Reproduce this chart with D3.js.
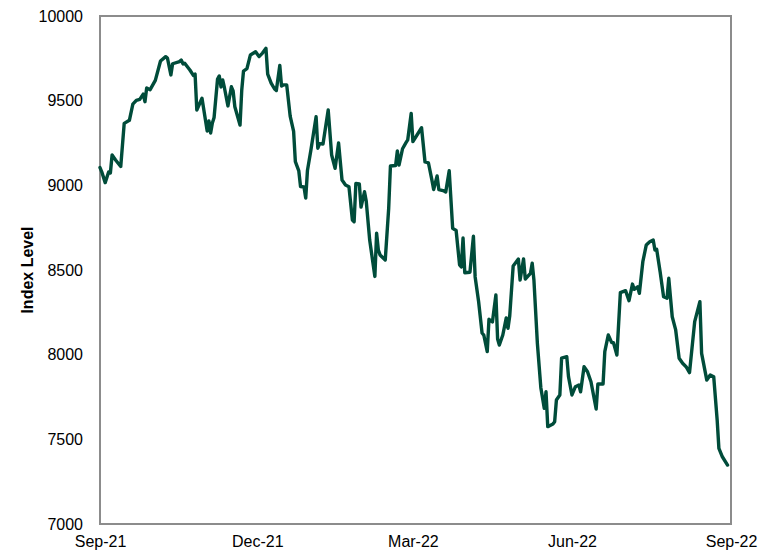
<!DOCTYPE html>
<html>
<head>
<meta charset="utf-8">
<script src="https://cdn.jsdelivr.net/npm/d3@7"></script>
<style>
  html, body { margin: 0; padding: 0; background: #ffffff; }
  svg { display: block; }
  text { font-family: "Liberation Sans", Arial, sans-serif; }
</style>
</head>
<body>
<svg id="chart" width="770" height="560"></svg>
<script>
// ---- Data ----
const dates = [
  "2021-09-01","2021-09-02","2021-09-04","2021-09-06","2021-09-07","2021-09-08","2021-09-10","2021-09-13","2021-09-15","2021-09-18",
  "2021-09-20","2021-09-22","2021-09-24","2021-09-26","2021-09-27","2021-09-28","2021-09-30","2021-10-03","2021-10-06","2021-10-09",
  "2021-10-10","2021-10-12","2021-10-13","2021-10-17","2021-10-18","2021-10-19","2021-10-20","2021-10-23","2021-10-25","2021-10-26",
  "2021-10-27","2021-10-30","2021-11-02","2021-11-03","2021-11-04","2021-11-05","2021-11-06","2021-11-08","2021-11-09","2021-11-10",
  "2021-11-11","2021-11-12","2021-11-14","2021-11-16","2021-11-17","2021-11-18","2021-11-21","2021-11-22","2021-11-23","2021-11-25",
  "2021-11-27","2021-11-30","2021-12-02","2021-12-04","2021-12-06","2021-12-07","2021-12-09","2021-12-11","2021-12-12","2021-12-14",
  "2021-12-15","2021-12-16","2021-12-18","2021-12-20","2021-12-22","2021-12-23","2021-12-25","2021-12-26","2021-12-28","2021-12-29",
  "2021-12-30","2022-01-01","2022-01-04","2022-01-05","2022-01-06","2022-01-08","2022-01-11","2022-01-13","2022-01-15","2022-01-17",
  "2022-01-19","2022-01-21","2022-01-23","2022-01-25","2022-01-26","2022-01-27","2022-01-29","2022-01-30","2022-02-01","2022-02-02",
  "2022-02-04","2022-02-07","2022-02-08","2022-02-09","2022-02-10","2022-02-13","2022-02-15","2022-02-16","2022-02-19","2022-02-20",
  "2022-02-21","2022-02-23","2022-02-25","2022-02-26","2022-02-28","2022-03-01","2022-03-06","2022-03-08","2022-03-10","2022-03-12",
  "2022-03-13","2022-03-15","2022-03-16","2022-03-19","2022-03-20","2022-03-22","2022-03-24","2022-03-26","2022-03-28","2022-03-29",
  "2022-03-30","2022-03-31","2022-04-03","2022-04-05","2022-04-06","2022-04-08","2022-04-10","2022-04-11","2022-04-13","2022-04-14",
  "2022-04-16","2022-04-18","2022-04-19","2022-04-20","2022-04-22","2022-04-24","2022-04-25","2022-04-26","2022-04-28","2022-05-01",
  "2022-05-02","2022-05-04","2022-05-05","2022-05-08","2022-05-09","2022-05-10","2022-05-12","2022-05-14","2022-05-16","2022-05-17",
  "2022-05-18","2022-05-21","2022-05-22","2022-05-23","2022-05-25","2022-05-26","2022-05-29","2022-05-30","2022-06-01","2022-06-03",
  "2022-06-05","2022-06-06","2022-06-08","2022-06-10","2022-06-12","2022-06-15","2022-06-16","2022-06-19","2022-06-20","2022-06-22",
  "2022-06-24","2022-06-25","2022-06-27","2022-06-29","2022-07-02","2022-07-04","2022-07-06","2022-07-07","2022-07-09","2022-07-10",
  "2022-07-12","2022-07-14","2022-07-16","2022-07-18","2022-07-19","2022-07-20","2022-07-22","2022-07-24","2022-07-26","2022-07-27",
  "2022-07-29","2022-07-31","2022-08-02","2022-08-04","2022-08-06","2022-08-08","2022-08-11","2022-08-14","2022-08-15","2022-08-18",
  "2022-08-20","2022-08-22","2022-08-24","2022-08-25","2022-08-27","2022-08-30"
];
const indexLevel = [
  9105,9080,9016,9079,9073,9179,9150,9111,9366,9384,
  9480,9502,9508,9539,9494,9575,9565,9620,9734,9760,
  9752,9652,9718,9731,9740,9717,9721,9681,9649,9657,
  9445,9514,9321,9380,9309,9368,9401,9628,9646,9581,
  9622,9575,9469,9582,9557,9464,9356,9563,9675,9689,
  9770,9789,9760,9781,9809,9657,9604,9569,9560,9708,
  9587,9593,9593,9409,9318,9140,9085,8993,8990,8925,
  9088,9209,9405,9219,9246,9244,9445,9179,9101,9250,
  9031,9002,8992,8795,8785,9011,9008,8872,8962,8907,
  8677,8462,8717,8618,8589,8559,8866,9114,9117,9203,
  9120,9216,9252,9268,9425,9258,9340,9138,9132,9031,
  8975,9055,8975,8967,8961,9086,8746,8733,8530,8518,
  8689,8484,8487,8699,8459,8314,8128,8116,8018,8209,
  8193,8352,8093,8057,8116,8217,8156,8228,8524,8565,
  8441,8565,8447,8480,8540,8441,8067,7805,7683,7781,
  7575,7591,7604,7732,7762,7979,7988,7870,7762,7811,
  7821,7781,7929,7899,7840,7679,7827,7827,8018,8116,
  8071,8071,7998,8366,8378,8319,8417,8386,8401,8362,
  8549,8648,8667,8677,8618,8622,8490,8342,8333,8451,
  8224,8146,7979,7949,7929,7894,8195,8313,8008,7850,
  7880,7870,7614,7447,7397,7348
];
const xTickLabels = ["Sep-21","Dec-21","Mar-22","Jun-22","Sep-22"];
const xTickDates = ["2021-09-01","2021-12-01","2022-03-01","2022-06-01","2022-09-01"];
const yTicks = [7000,7500,8000,8500,9000,9500,10000];
const yTitle = "Index Level";

// ---- Layout ----
const W = 770, H = 560;
const margin = {left: 100, right: 39, top: 16, bottom: 36};
const parse = d3.timeParse("%Y-%m-%d");
const series = dates.map((d, i) => ({date: parse(d), value: indexLevel[i]}));

const svg = d3.select("#chart");

const x = d3.scaleTime()
  .domain([parse(xTickDates[0]), parse(xTickDates[xTickDates.length - 1])])
  .range([margin.left, W - margin.right]);
const y = d3.scaleLinear()
  .domain([7000, 10000])
  .range([H - margin.bottom, margin.top]);

// frame
svg.append("rect")
  .attr("x", x.range()[0]).attr("y", y.range()[1])
  .attr("width", x.range()[1] - x.range()[0])
  .attr("height", y.range()[0] - y.range()[1])
  .attr("fill", "none")
  .attr("stroke", "#8c8c8c")
  .attr("stroke-width", 1.2)
  .attr("shape-rendering", "crispEdges");

// y axis
const yAxis = svg.append("g")
  .attr("transform", `translate(${margin.left},0)`)
  .call(d3.axisLeft(y).tickValues(yTicks).tickSize(0).tickPadding(17).tickFormat(d3.format("d")));
yAxis.select(".domain").remove();
yAxis.selectAll("text").attr("font-size", 16).attr("fill", "#000")
  .attr("font-family", "'Liberation Sans', Arial, sans-serif");

// x axis
const xAxis = svg.append("g")
  .attr("transform", `translate(0,${H - margin.bottom})`)
  .call(d3.axisBottom(x)
    .tickValues(xTickDates.map(parse))
    .tickSize(0).tickPadding(12)
    .tickFormat((d, i) => xTickLabels[i]));
xAxis.select(".domain").remove();
xAxis.selectAll("text").attr("font-size", 16).attr("fill", "#000")
  .attr("font-family", "'Liberation Sans', Arial, sans-serif");

// y title
svg.append("text")
  .attr("transform", `translate(33,${(y.range()[0] + y.range()[1]) / 2}) rotate(-90)`)
  .attr("text-anchor", "middle")
  .attr("font-size", 16)
  .attr("font-weight", "bold")
  .attr("fill", "#000")
  .text(yTitle);

// line
const line = d3.line().x(d => x(d.date)).y(d => y(d.value));
svg.append("path")
  .datum(series)
  .attr("d", line)
  .attr("fill", "none")
  .attr("stroke", "#004c3a")
  .attr("stroke-width", 3.4)
  .attr("stroke-linejoin", "round")
  .attr("stroke-linecap", "round");
</script>
</body>
</html>
